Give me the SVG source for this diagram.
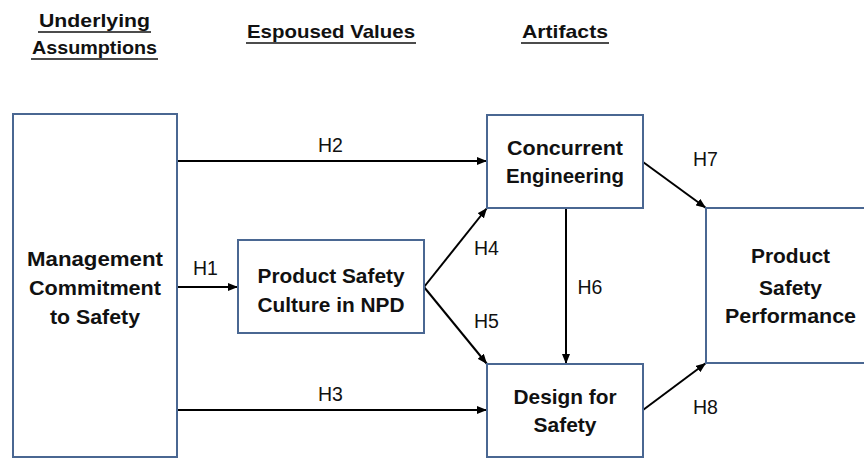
<svg xmlns="http://www.w3.org/2000/svg" width="864" height="458" viewBox="0 0 864 458">
<defs>
<style>
.box{fill:#ffffff;stroke:#4a6792;stroke-width:2}
.lbl{font-family:"Liberation Sans",Arial,sans-serif;font-weight:bold;font-size:21px;fill:#111;text-anchor:middle}
.hd{font-family:"Liberation Sans",Arial,sans-serif;font-weight:bold;font-size:19px;fill:#111;text-anchor:middle}
.h{font-family:"Liberation Sans",Arial,sans-serif;font-size:19.5px;fill:#111;text-anchor:middle}
.ul{stroke:#111;stroke-width:1.6}
.ar{stroke:#000;stroke-width:2;fill:none;marker-end:url(#ah)}
</style>
<marker id="ah" markerUnits="userSpaceOnUse" markerWidth="10" markerHeight="8" viewBox="0 0 10 8" refX="10" refY="4" orient="auto">
<path d="M0,0 L10,4 L0,8 Z" fill="#000"/>
</marker>
</defs>
<rect width="864" height="458" fill="#fff"/>
<g id="headers">
<text class="hd" x="94.5" y="27" textLength="111" lengthAdjust="spacingAndGlyphs">Underlying</text>
<line class="ul" x1="38" y1="32" x2="151" y2="32"/>
<text class="hd" x="94.5" y="54" textLength="125" lengthAdjust="spacingAndGlyphs">Assumptions</text>
<line class="ul" x1="31" y1="59" x2="158" y2="59"/>
<text class="hd" x="331" y="38" textLength="168" lengthAdjust="spacingAndGlyphs">Espoused Values</text>
<line class="ul" x1="246" y1="43" x2="416" y2="43"/>
<text class="hd" x="565" y="38" textLength="86" lengthAdjust="spacingAndGlyphs">Artifacts</text>
<line class="ul" x1="521" y1="43" x2="609" y2="43"/>
</g>
<g id="connectors">
<line class="ar" x1="177" y1="161" x2="487" y2="161"/>
<line class="ar" x1="177" y1="410" x2="487" y2="410"/>
<line class="ar" x1="177" y1="287" x2="238" y2="287"/>
<line class="ar" x1="424" y1="287" x2="487" y2="208"/>
<line class="ar" x1="424" y1="287" x2="487" y2="364"/>
<line class="ar" x1="566" y1="208" x2="566" y2="364"/>
<line class="ar" x1="643" y1="162" x2="706" y2="208"/>
<line class="ar" x1="643" y1="410" x2="706" y2="363"/>
<text class="h" x="330.5" y="152">H2</text>
<text class="h" x="330.5" y="401">H3</text>
<text class="h" x="205.5" y="275">H1</text>
<text class="h" x="486.5" y="255">H4</text>
<text class="h" x="486.5" y="328">H5</text>
<text class="h" x="590" y="294">H6</text>
<text class="h" x="705.5" y="166">H7</text>
<text class="h" x="705.5" y="414">H8</text>
</g>
<g id="mgmt">
<rect class="box" x="13" y="114" width="164" height="343"/>
<text class="lbl" x="95" y="266" textLength="136" lengthAdjust="spacingAndGlyphs">Management</text>
<text class="lbl" x="95" y="295" textLength="132" lengthAdjust="spacingAndGlyphs">Commitment</text>
<text class="lbl" x="95" y="324" textLength="90" lengthAdjust="spacingAndGlyphs">to Safety</text>
</g>
<g id="psc">
<rect class="box" x="238" y="240" width="186" height="93"/>
<text class="lbl" x="331" y="283" textLength="147" lengthAdjust="spacingAndGlyphs">Product Safety</text>
<text class="lbl" x="331" y="312" textLength="147" lengthAdjust="spacingAndGlyphs">Culture in NPD</text>
</g>
<g id="ce">
<rect class="box" x="487" y="115" width="156" height="93"/>
<text class="lbl" x="565" y="155" textLength="116" lengthAdjust="spacingAndGlyphs">Concurrent</text>
<text class="lbl" x="565" y="183" textLength="118" lengthAdjust="spacingAndGlyphs">Engineering</text>
</g>
<g id="dfs">
<rect class="box" x="487" y="364" width="156" height="93"/>
<text class="lbl" x="565" y="404" textLength="103" lengthAdjust="spacingAndGlyphs">Design for</text>
<text class="lbl" x="565" y="432" textLength="63" lengthAdjust="spacingAndGlyphs">Safety</text>
</g>
<g id="psp">
<rect class="box" x="706" y="208" width="170" height="155"/>
<text class="lbl" x="790.5" y="263" textLength="79" lengthAdjust="spacingAndGlyphs">Product</text>
<text class="lbl" x="790.5" y="295" textLength="63" lengthAdjust="spacingAndGlyphs">Safety</text>
<text class="lbl" x="790.5" y="323" textLength="131" lengthAdjust="spacingAndGlyphs">Performance</text>
</g>
</svg>
